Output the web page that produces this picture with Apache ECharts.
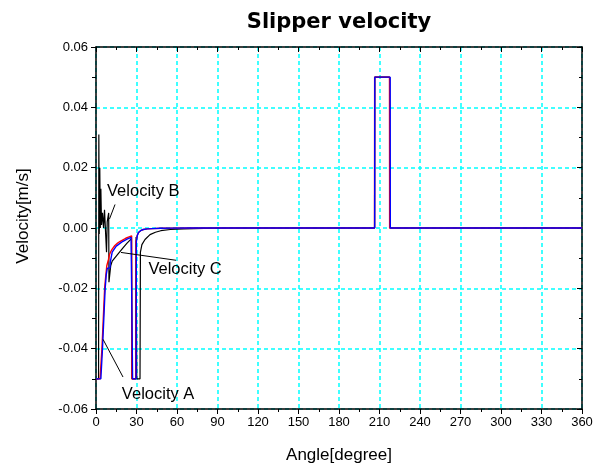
<!DOCTYPE html>
<html>
<head>
<meta charset="utf-8">
<script src="https://cdn.jsdelivr.net/npm/echarts@6/dist/echarts.min.js"></script>
<style>
html,body{margin:0;padding:0;background:#fff;}
#chart{width:605px;height:469px;}
</style>
</head>
<body>
<div id="chart"></div>
<script>
// Slipper velocity over one revolution (angle in degrees, velocity in m/s)

// Velocity A (red)
const angleA = [0, 3.0, 4.4, 5.4, 6.4, 7.2, 8.0, 8.6, 9.2, 10, 11, 12, 14, 16, 18, 20, 22, 24, 26.4, 26.6, 29.4, 29.6, 30.5, 31.5, 33, 35, 38, 42, 48, 56, 70, 90, 206.3, 206.4, 217.4, 217.5, 360];
const velA   = [-0.05, -0.05, -0.04, -0.03, -0.02, -0.016, -0.0125, -0.0122, -0.0105, -0.0088, -0.0078, -0.0070, -0.0058, -0.0050, -0.0044, -0.0039, -0.0034, -0.0030, -0.0026, -0.05, -0.05, -0.0045, -0.0025, -0.0015, -0.0009, -0.0005, -0.0003, -0.0002, -0.0001, -0.00005, 0, 0, 0, 0.05, 0.05, 0, 0];

// Velocity B (black)
const angleB = [0, 1.9, 2.1, 2.4, 2.8, 3.2, 3.6, 4.1, 4.8, 5.6, 6.3, 7.0, 7.5, 7.8, 8.3, 9.4, 9.6, 10.6, 10.9, 12, 15, 20, 23, 26.3, 26.6, 29.4, 29.7, 30.2, 32.6, 32.9, 34, 36.3, 40, 44, 48, 55, 65, 80, 100, 206.4, 206.5, 217.5, 217.6, 360];
const velB   = [-0.05, -0.05, 0.031, -0.002, 0.02, 0.0, 0.013, 0.001, 0.005, 0.0, 0.006, 0.0055, 0.006, -0.008, 0.002, 0.005, -0.018, -0.018, -0.0125, -0.011, -0.0093, -0.0066, -0.0050, -0.0035, -0.05, -0.05, -0.003, -0.05, -0.05, -0.008, -0.0055, -0.0038, -0.0022, -0.0014, -0.0009, -0.0005, -0.0003, -0.0001, 0, 0, 0.05, 0.05, 0, 0];

// Velocity C (blue)
const angleC = [0, 3.6, 4.8, 5.8, 6.8, 7.6, 8.4, 10.3, 10.6, 12, 15, 18, 20, 23, 26.0, 26.9, 27.1, 29.7, 29.9, 30.6, 31.5, 33, 35, 38, 42, 48, 56, 70, 90, 206.4, 206.5, 217.9, 218.0, 360];
const velC   = [-0.05, -0.05, -0.04, -0.03, -0.02, -0.0155, -0.0133, -0.0133, -0.0112, -0.0080, -0.0060, -0.0050, -0.0044, -0.0037, -0.0031, -0.0028, -0.05, -0.05, -0.0045, -0.0025, -0.0015, -0.0009, -0.0005, -0.0003, -0.0002, -0.0001, -0.00005, 0, 0, 0, 0.05, 0.05, 0, 0];

// Axis ticks
const xTicks = [0, 30, 60, 90, 120, 150, 180, 210, 240, 270, 300, 330, 360];
const yTicks = [-0.06, -0.04, -0.02, 0.00, 0.02, 0.04, 0.06];

// Callout labels: text position and leader line ends, in data units
const calloutText  = ['Velocity A', 'Velocity B', 'Velocity C'];
const calloutAt    = [[46.0, -0.0553], [35.0, 0.0121], [66.0, -0.0138]];
const leaderFrom   = [[5.2, -0.0369], [10.0, 0.0030], [18.5, -0.0081]];
const leaderTo     = [[20.0, -0.0494], [14.1, 0.0078], [59.3, -0.0107]];

const pairs = (xs, ys) => xs.map((x, i) => [x, ys[i]]);
const FONT = 'Liberation Sans, Arial, sans-serif';

const chart = echarts.init(document.getElementById('chart'), null, {renderer: 'canvas'});

const gridLine = {show: true, lineStyle: {color: '#00ffff', type: [4, 3], width: 1.5}};
const axisLine = {show: true, onZero: false, lineStyle: {color: '#000', width: 1.5}};
const tickStyle = {color: '#000', width: 1};

// Mirror axes on the top and right carry inward ticks only
const mirrorX = {
  type: 'value', min: xTicks[0], max: xTicks[xTicks.length - 1], interval: 30,
  position: 'top', axisLine: axisLine,
  axisTick: {show: true, inside: true, length: 5, lineStyle: tickStyle},
  minorTick: {show: true, splitNumber: 2, length: 3, lineStyle: tickStyle},
  axisLabel: {show: false}, splitLine: {show: false}
};
const mirrorY = {
  type: 'value', min: yTicks[0], max: yTicks[yTicks.length - 1], interval: 0.02,
  position: 'right', axisLine: axisLine,
  axisTick: {show: true, inside: true, length: 5, lineStyle: tickStyle},
  minorTick: {show: true, splitNumber: 2, length: 3, lineStyle: tickStyle},
  axisLabel: {show: false}, splitLine: {show: false}
};

chart.setOption({
  animation: false,
  backgroundColor: '#fff',
  title: {
    text: 'Slipper velocity',
    left: 334, top: 7, textAlign: 'center',
    textStyle: {fontFamily: 'DejaVu Sans, sans-serif', fontWeight: 'bold', fontSize: 21, color: '#000'}
  },
  grid: {left: 96, right: 23, top: 47, bottom: 59, containLabel: false},
  xAxis: [{
    type: 'value', min: xTicks[0], max: xTicks[xTicks.length - 1], interval: 30,
    position: 'bottom',
    name: 'Angle[degree]', nameLocation: 'middle', nameGap: 38,
    nameTextStyle: {fontFamily: FONT, fontSize: 17, color: '#000'},
    axisLine: axisLine,
    axisTick: {show: true, inside: false, length: 5, lineStyle: tickStyle},
    minorTick: {show: true, splitNumber: 2, length: 3, lineStyle: tickStyle},
    axisLabel: {fontFamily: FONT, fontSize: 13, color: '#000', margin: 7},
    splitLine: gridLine
  }, mirrorX],
  yAxis: [{
    type: 'value', min: yTicks[0], max: yTicks[yTicks.length - 1], interval: 0.02,
    position: 'left',
    name: 'Velocity[m/s]', nameLocation: 'middle', nameGap: 64,
    nameTextStyle: {fontFamily: FONT, fontSize: 17, color: '#000', padding: [0, 0, 0, 24]},
    axisLine: axisLine,
    axisTick: {show: true, inside: false, length: 5, lineStyle: tickStyle},
    minorTick: {show: true, splitNumber: 2, length: 4, lineStyle: tickStyle},
    axisLabel: {fontFamily: FONT, fontSize: 13, color: '#000', margin: 8,
      formatter: v => v.toFixed(2)},
    splitLine: gridLine
  }, mirrorY],
  series: [
    {name: 'Velocity B', type: 'line', data: pairs(angleB, velB), showSymbol: false, symbol: 'none',
     lineStyle: {color: '#000', width: 1.2}, z: 2},
    {name: 'Velocity A', type: 'line', data: pairs(angleA, velA), showSymbol: false, symbol: 'none',
     lineStyle: {color: '#ff0000', width: 1.4}, z: 3},
    {name: 'Velocity C', type: 'line', data: pairs(angleC, velC), showSymbol: false, symbol: 'none',
     lineStyle: {color: '#0000ff', width: 1.4}, z: 4}
  ]
});

// Callout texts and leader lines placed through the axis scales
const toPx = p => chart.convertToPixel({gridIndex: 0}, p);
const graphics = [];
calloutText.forEach((t, i) => {
  const a = toPx(leaderFrom[i]);
  const b = toPx(leaderTo[i]);
  graphics.push({
    type: 'line', z: 10,
    shape: {x1: a[0], y1: a[1], x2: b[0], y2: b[1]},
    style: {stroke: '#000', lineWidth: 1}
  });
  const c = toPx(calloutAt[i]);
  graphics.push({
    type: 'text', z: 11, x: c[0], y: c[1],
    style: {text: t, fill: '#000', font: '16.5px ' + FONT, align: 'center', verticalAlign: 'middle'}
  });
});
chart.setOption({graphic: graphics});
</script>
</body>
</html>
